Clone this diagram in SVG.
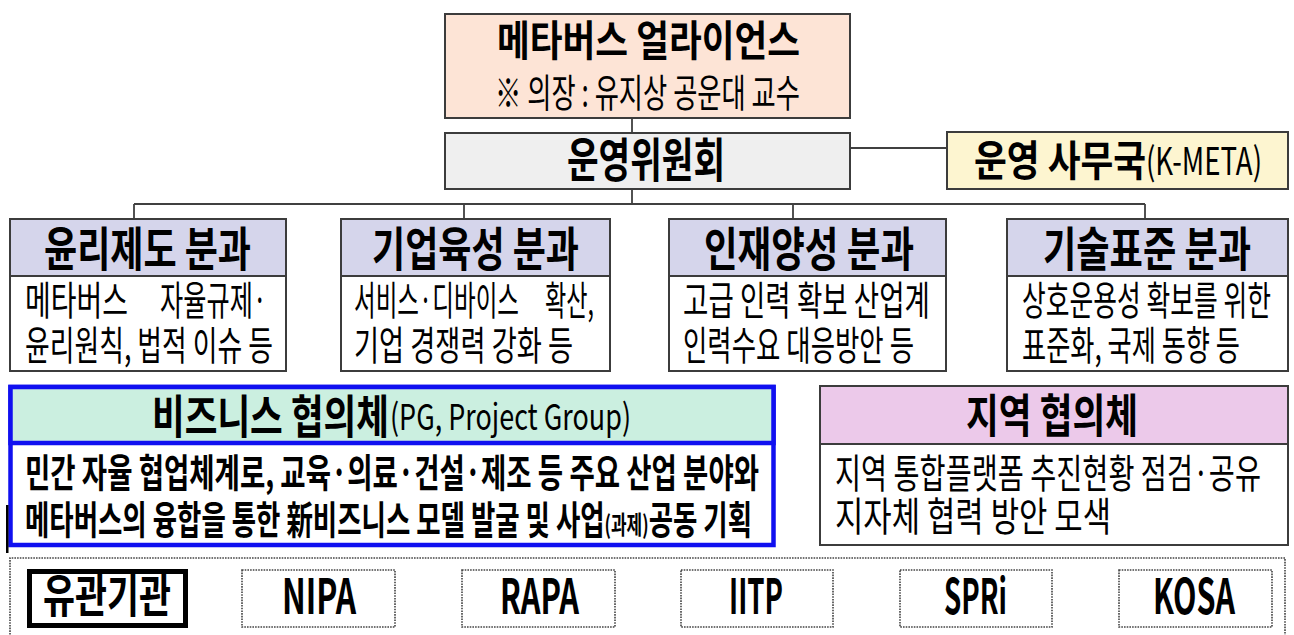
<svg xmlns="http://www.w3.org/2000/svg" width="1294" height="635" viewBox="0 0 1294 635">
<style>
text{font-family:"Noto Sans CJK KR","Liberation Sans",sans-serif;fill:#000}
.b{font-weight:bold}
.r{font-weight:normal}
.box{stroke:#3c3c3c;stroke-width:2}
.conn{stroke:#404040;stroke-width:1.8;fill:none}
.dot{stroke:#444;stroke-width:1.6;stroke-dasharray:1.6 1.1;fill:#fff}
</style>
<rect width="1294" height="635" fill="#fff"/>
<g id="connectors">
<path class="conn" d="M632,118 V133 M632,189 V204 M134,204 H1145 M134,204 V219 M464,204 V219 M793,204 V219 M1145,204 V219 M850,148 H947"/>
</g>
<g id="alliance">
<rect class="box" x="445" y="14" width="405" height="104" fill="#fde4d6"/>
<text class="b" x="497" y="56" font-size="42" textLength="303" lengthAdjust="spacingAndGlyphs">메타버스 얼라이언스</text>
<text class="r" x="495" y="107" font-size="39" textLength="305" lengthAdjust="spacingAndGlyphs">※ 의장 : 유지상 공운대 교수</text>
</g>
<g id="committee">
<rect class="box" x="445" y="133" width="405" height="56" fill="#efefef"/>
<text class="b" x="567" y="177" font-size="47" textLength="158" lengthAdjust="spacingAndGlyphs">운영위원회</text>
</g>
<g id="secretariat">
<rect class="box" x="947" y="132" width="341" height="57" fill="#fdf5d0"/>
<text class="b" x="974" y="176" font-size="42" textLength="172" lengthAdjust="spacingAndGlyphs">운영 사무국</text>
<text class="r" x="1146" y="175" font-size="38" textLength="116" lengthAdjust="spacingAndGlyphs">(K-META)</text>
</g>
<g id="ethics">
<rect class="box" x="10" y="219" width="276" height="152" fill="#fff"/>
<rect class="box" x="10" y="219" width="276" height="57" fill="#d5d5eb"/>
<text class="b" x="44" y="266" font-size="47" textLength="207" lengthAdjust="spacingAndGlyphs">윤리제도 분과</text>
<text class="r" x="25" y="315" font-size="40" textLength="103" lengthAdjust="spacingAndGlyphs">메타버스</text>
<text class="r" x="160" y="315" font-size="40" textLength="107" lengthAdjust="spacingAndGlyphs">자율규제·</text>
<text class="r" x="25" y="360" font-size="40" textLength="248" lengthAdjust="spacingAndGlyphs">윤리원칙, 법적 이슈 등</text>
</g>
<g id="enterprise">
<rect class="box" x="341" y="219" width="269" height="152" fill="#fff"/>
<rect class="box" x="341" y="219" width="269" height="57" fill="#d5d5eb"/>
<text class="b" x="372" y="266" font-size="47" textLength="207" lengthAdjust="spacingAndGlyphs">기업육성 분과</text>
<text class="r" x="354" y="315" font-size="40" textLength="165" lengthAdjust="spacingAndGlyphs">서비스·디바이스</text>
<text class="r" x="545" y="315" font-size="40" textLength="49" lengthAdjust="spacingAndGlyphs">확산,</text>
<text class="r" x="354" y="360" font-size="40" textLength="219" lengthAdjust="spacingAndGlyphs">기업 경쟁력 강화 등</text>
</g>
<g id="talent">
<rect class="box" x="669" y="219" width="277" height="152" fill="#fff"/>
<rect class="box" x="669" y="219" width="277" height="57" fill="#d5d5eb"/>
<text class="b" x="704" y="266" font-size="47" textLength="210" lengthAdjust="spacingAndGlyphs">인재양성 분과</text>
<text class="r" x="683" y="315" font-size="40" textLength="247" lengthAdjust="spacingAndGlyphs">고급 인력 확보  산업계</text>
<text class="r" x="683" y="360" font-size="40" textLength="231" lengthAdjust="spacingAndGlyphs">인력수요 대응방안 등</text>
</g>
<g id="standard">
<rect class="box" x="1007" y="219" width="281" height="152" fill="#fff"/>
<rect class="box" x="1007" y="219" width="281" height="57" fill="#d5d5eb"/>
<text class="b" x="1043" y="266" font-size="47" textLength="208" lengthAdjust="spacingAndGlyphs">기술표준 분과</text>
<text class="r" x="1022" y="315" font-size="40" textLength="249" lengthAdjust="spacingAndGlyphs">상호운용성 확보를 위한</text>
<text class="r" x="1022" y="360" font-size="40" textLength="218" lengthAdjust="spacingAndGlyphs">표준화, 국제 동향 등</text>
</g>
<g id="business">
<rect x="10.5" y="387" width="763" height="158" fill="#fff" stroke="#1010f0" stroke-width="4.5"/>
<rect x="10.5" y="387" width="763" height="56" fill="#cbefe0" stroke="#1010f0" stroke-width="4.5"/>
<text class="b" x="152" y="433" font-size="46" textLength="237" lengthAdjust="spacingAndGlyphs">비즈니스 협의체</text>
<text class="r" x="390" y="430" font-size="36" textLength="241" lengthAdjust="spacingAndGlyphs">(PG, Project Group)</text>
<text class="b" x="25" y="487" font-size="39" textLength="734" lengthAdjust="spacingAndGlyphs">민간 자율 협업체계로, 교육·의료·건설·제조 등 주요 산업 분야와</text>
<text class="b" x="25" y="534" font-size="39" textLength="727" lengthAdjust="spacingAndGlyphs">메타버스의 융합을 통한 新비즈니스 모델 발굴 및 사업<tspan font-size="25">(과제)</tspan>공동 기획</text>
<rect x="6" y="505" width="2.5" height="48" fill="#000"/>
</g>
<g id="regional">
<rect class="box" x="820" y="386" width="468" height="159" fill="#fff"/>
<rect class="box" x="820" y="386" width="468" height="58" fill="#ecc9ea"/>
<text class="b" x="966" y="432" font-size="46" textLength="172" lengthAdjust="spacingAndGlyphs">지역 협의체</text>
<text class="r" x="835" y="488" font-size="40" textLength="426" lengthAdjust="spacingAndGlyphs">지역 통합플랫폼 추진현황 점검·공유</text>
<text class="r" x="835" y="531" font-size="40" textLength="276" lengthAdjust="spacingAndGlyphs">지자체 협력 방안 모색</text>
</g>
<g id="agencies">
<path class="dot" d="M10,640 V558 H1285 V640" style="fill:none"/>
<g id="agency-label">
<rect x="29.5" y="571.5" width="156" height="54" fill="#fff" stroke="#000" stroke-width="5"/>
<text class="b" x="43" y="612" font-size="46" textLength="128" lengthAdjust="spacingAndGlyphs">유관기관</text>
</g>
<g id="nipa">
<rect class="dot" x="242" y="570" width="153" height="57"/>
<text class="b" x="282" y="614" font-size="48" textLength="74" lengthAdjust="spacingAndGlyphs">NIPA</text>
</g>
<g id="rapa">
<rect class="dot" x="462" y="570" width="153" height="57"/>
<text class="b" x="500" y="614" font-size="48" textLength="79" lengthAdjust="spacingAndGlyphs">RAPA</text>
</g>
<g id="iitp">
<rect class="dot" x="681" y="570" width="152" height="57"/>
<text class="b" x="729" y="614" font-size="48" textLength="54" lengthAdjust="spacingAndGlyphs">IITP</text>
</g>
<g id="spri">
<rect class="dot" x="900" y="570" width="152" height="57"/>
<text class="b" x="944" y="614" font-size="48" textLength="63" lengthAdjust="spacingAndGlyphs">SPRi</text>
</g>
<g id="kosa">
<rect class="dot" x="1119" y="570" width="153" height="57"/>
<text class="b" x="1153" y="614" font-size="48" textLength="82" lengthAdjust="spacingAndGlyphs">KOSA</text>
</g>
</g>
</svg>
